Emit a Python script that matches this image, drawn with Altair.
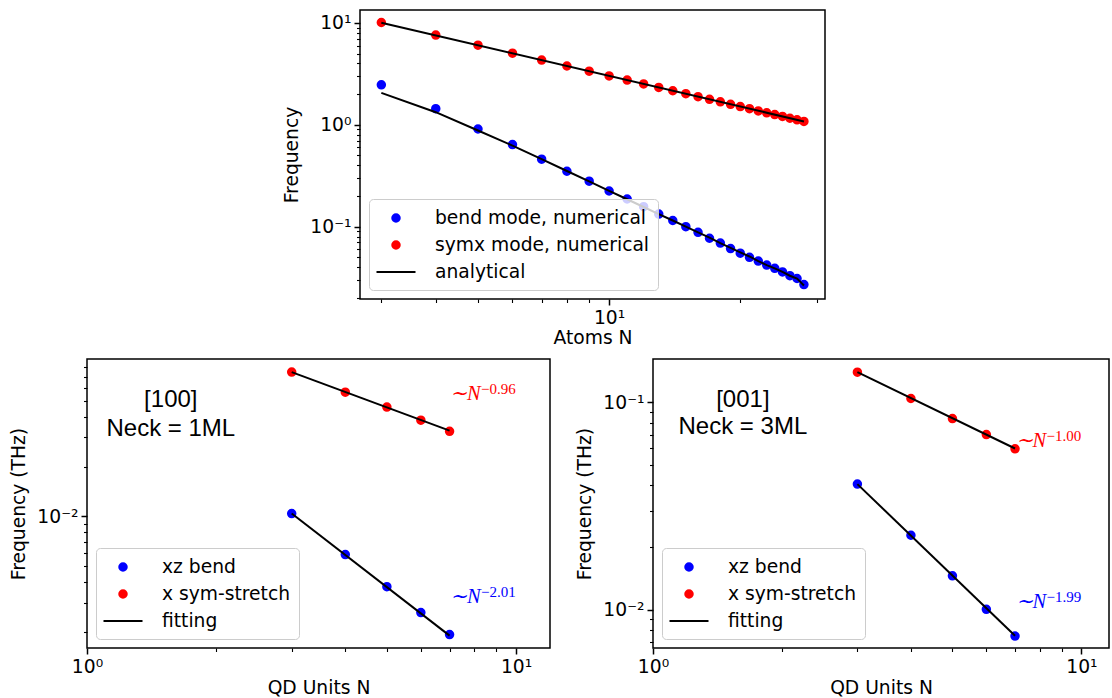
import altair as alt
import pandas as pd

FONT = "DejaVu Sans"
FS = 18.7
BLUE = "#0000ff"
RED = "#ff0000"

# ---------------- top panel: atoms chain ----------------
atoms_N = [3, 4, 5, 6, 7, 8, 9, 10, 11, 12, 13, 14, 15, 16, 17, 18, 19, 20,
           21, 22, 23, 24, 25, 26, 27, 28]
atoms_bend = [2.47, 1.44, 0.91, 0.64, 0.46, 0.35, 0.28, 0.224, 0.187, 0.157,
              0.133, 0.115, 0.100, 0.088, 0.077, 0.069, 0.061, 0.055, 0.050,
              0.046, 0.042, 0.039, 0.036, 0.033, 0.031, 0.027]
atoms_symx = [10.1, 7.6, 6.05, 5.05, 4.32, 3.78, 3.36, 3.02, 2.75, 2.52, 2.33,
              2.16, 2.02, 1.89, 1.78, 1.68, 1.59, 1.51, 1.44, 1.37, 1.31, 1.26,
              1.21, 1.16, 1.12, 1.08]
atoms_fit_bend = [2.06, 1.33, 0.88, 0.625, 0.46, 0.352, 0.279, 0.225, 0.186,
                  0.156, 0.133, 0.115, 0.100, 0.088, 0.078, 0.069, 0.062,
                  0.056, 0.051, 0.046, 0.042, 0.039, 0.036, 0.033, 0.031, 0.0265]
atoms_fit_symx_N = [3, 28]
atoms_fit_symx = [10.05, 1.08]
atoms_labels = ["bend mode, numerical", "symx mode, numerical", "analytical"]

# ---------------- bottom panels: QD units ----------------
qd_N = [3, 4, 5, 6, 7]
qd_fit_N = [3, 7]
p100_bend = [0.0104, 0.00588, 0.00376, 0.00262, 0.00193]
p100_stretch = [0.0746, 0.0564, 0.0458, 0.0382, 0.0327]
p100_fit_bend = [0.0104, 0.00190]
p100_fit_stretch = [0.0745, 0.0330]
p001_bend = [0.0404, 0.0229, 0.0146, 0.01006, 0.00748]
p001_stretch = [0.140, 0.1045, 0.0836, 0.0700, 0.0598]
p001_fit_bend = [0.0404, 0.00750]
p001_fit_stretch = [0.140, 0.0600]
qd_labels = ["xz bend", "x sym-stretch", "fitting"]

# annotations
p100_note = ["[100]", "Neck = 1ML"]
p100_note_N = [1.568, 1.568]
p100_note_f = [0.0458, 0.0305]
p001_note = ["[001]", "Neck = 3ML"]
p001_note_N = [1.621, 1.621]
p001_note_f = [0.0950, 0.0702]
p100_exp = ["\u22120.96", "\u22122.01"]
p100_exp_f = [0.0505, 0.00301]
p001_exp = ["\u22121.00", "\u22121.99"]
p001_exp_f = [0.0607, 0.0102]
exp_N = [7.02, 7.02]
exp_colors = [RED, BLUE]

SUP = {0.01: "10\u207b\u00b2", 0.1: "10\u207b\u00b9", 1: "10\u2070", 10: "10\u00b9"}

# marker glyphs as unit paths, drawn at size 400 -> 20 px box
SYM_SIZE = 400
DOT = "M-0.375,0A0.375,0.375,0,1,0,0.375,0A0.375,0.375,0,1,0,-0.375,0Z"
DASH = "M-1.95,0L1.95,0"


def log_axis(title, values, majors, title_pad):
    test = " || ".join(f"datum.value == {m}" for m in majors)
    expr = "".join(f"datum.value == {m} ? '{SUP[m]}' : " for m in majors) + "''"
    return alt.Axis(
        title=title, values=values, labelExpr=expr,
        tickSize={"condition": {"test": test, "value": 6}, "value": 3.5},
        tickWidth={"condition": {"test": test, "value": 1.5}, "value": 1.1},
        domain=False, grid=False, labelFlush=False, labelOverlap=False,
        labelPadding=3, titlePadding=title_pad,
    )


def legend():
    return alt.Legend(
        title=None, orient="bottom-left", offset=9,
        fillColor="rgba(255,255,255,0.8)", strokeColor="#cccccc",
        cornerRadius=4, padding=8, labelFont=FONT, labelFontSize=FS,
        labelColor="black", labelLimit=500, labelOffset=28, rowPadding=6,
        symbolOffset=8, symbolStrokeWidth=2, symbolOpacity=1,
        symbolSize=SYM_SIZE,
    )


def panel(pts, lines, labels, xdom, ydom, xaxis, yaxis, w, h, extra=None):
    xs = alt.Scale(type="log", domain=xdom, nice=False)
    ys = alt.Scale(type="log", domain=ydom, nice=False)
    X = alt.X("N:Q", scale=xs, axis=xaxis)
    Y = alt.Y("f:Q", scale=ys, axis=yaxis)
    lg = legend()
    p = alt.Chart(pts).mark_point(filled=False, strokeWidth=2, opacity=1,
                                  size=SYM_SIZE).encode(
        x=X, y=Y,
        stroke=alt.Stroke("series:N", scale=alt.Scale(domain=labels, range=[BLUE, RED, "black"]), legend=lg),
        fill=alt.Fill("series:N", scale=alt.Scale(domain=labels, range=[BLUE, RED, "black"]), legend=lg),
        shape=alt.Shape("series:N", scale=alt.Scale(domain=labels, range=[DOT, DOT, DASH]), legend=lg),
    )
    l = alt.Chart(lines).mark_line(color="black", strokeWidth=2).encode(
        x=X, y=Y, detail="series:N")
    layers = [p, l]
    if extra is not None:
        for e in extra:
            layers.append(e(X, Y))
    return alt.layer(*layers).properties(width=w, height=h)


# ---- top panel
top_pts = pd.DataFrame({
    "N": atoms_N + atoms_N,
    "f": atoms_bend + atoms_symx,
    "series": [atoms_labels[0]] * len(atoms_N) + [atoms_labels[1]] * len(atoms_N),
})
top_lines = pd.DataFrame({
    "N": atoms_N + atoms_fit_symx_N,
    "f": atoms_fit_bend + atoms_fit_symx,
    "series": ["b"] * len(atoms_N) + ["s"] * 2,
})
top = panel(
    top_pts, top_lines, atoms_labels, [2.68, 31.3], [0.0195, 13.4],
    log_axis("Atoms N", [3, 4, 5, 6, 7, 8, 9, 10, 20, 30], [10], 2),
    log_axis("Frequency", [0.02, 0.03, 0.04, 0.05, 0.06, 0.07, 0.08, 0.09, 0.1,
                           0.2, 0.3, 0.4, 0.5, 0.6, 0.7, 0.8, 0.9, 1, 2, 3, 4,
                           5, 6, 7, 8, 9, 10], [0.1, 1, 10], 8),
    465, 289,
)


def qd_panel(bend, stretch, fit_bend, fit_stretch, note, note_N, note_f,
             exps, exps_f, ydom, yvals, ymaj, xmax, w):
    pts = pd.DataFrame({
        "N": qd_N + qd_N,
        "f": bend + stretch,
        "series": [qd_labels[0]] * 5 + [qd_labels[1]] * 5,
    })
    lines = pd.DataFrame({
        "N": qd_fit_N + qd_fit_N,
        "f": fit_bend + fit_stretch,
        "series": ["b", "b", "s", "s"],
    })
    notes = pd.DataFrame({"N": note_N, "f": note_f, "t": note})
    ex = pd.DataFrame({"N": exp_N, "f": exps_f, "t": exps, "c": exp_colors})

    def t_notes(X, Y):
        return alt.Chart(notes).mark_text(
            font="Liberation Sans", fontSize=24, align="center",
            baseline="alphabetic", color="black").encode(x=X, y=Y, text="t:N")

    def t_base(X, Y):
        return alt.Chart(ex).mark_text(
            font="Liberation Serif", fontSize=20.5, fontStyle="italic",
            align="left", baseline="alphabetic").encode(
            x=X, y=Y, text=alt.value("\u223cN"),
            color=alt.Color("c:N", scale=None))

    def t_exp(X, Y):
        return alt.Chart(ex).mark_text(
            font="Liberation Serif", fontSize=15, align="left",
            baseline="alphabetic", dx=31, dy=-6).encode(
            x=X, y=Y, text="t:N", color=alt.Color("c:N", scale=None))

    return panel(
        pts, lines, qd_labels, [1, xmax], ydom,
        log_axis("QD Units N", [1, 2, 3, 4, 5, 6, 7, 8, 9, 10], [1, 10], 3),
        log_axis("Frequency (THz)", yvals, ymaj, 8),
        w, 289, extra=[t_notes, t_base, t_exp],
    )


bl = qd_panel(p100_bend, p100_stretch, p100_fit_bend, p100_fit_stretch,
              p100_note, p100_note_N, p100_note_f, p100_exp, p100_exp_f,
              [0.0016, 0.0895],
              [0.002, 0.003, 0.004, 0.005, 0.006, 0.007, 0.008, 0.009, 0.01,
               0.02, 0.03, 0.04, 0.05, 0.06, 0.07, 0.08], [0.01], 12, 463)
br = qd_panel(p001_bend, p001_stretch, p001_fit_bend, p001_fit_stretch,
              p001_note, p001_note_N, p001_note_f, p001_exp, p001_exp_f,
              [0.00655, 0.162],
              [0.007, 0.008, 0.009, 0.01, 0.02, 0.03, 0.04, 0.05, 0.06, 0.07,
               0.08, 0.09, 0.1], [0.01, 0.1], 11.6, 456)

spacer = alt.Chart(pd.DataFrame({"v": [0]})).mark_point(opacity=0).encode(
    x=alt.value(100), y=alt.value(100)
).properties(width=273, height=289, view=alt.ViewBackground(strokeOpacity=0))

indep = dict(x="independent", y="independent", stroke="independent",
             fill="independent", shape="independent")

top_row = alt.hconcat(spacer, top, spacing=0, bounds="flush").resolve_scale(**indep)
bottom_row = alt.hconcat(bl, br, spacing=103, bounds="flush").resolve_scale(**indep)

chart = alt.vconcat(top_row, bottom_row, spacing=8).resolve_scale(
    **indep
).properties(
    padding={"left": 9, "top": 9, "right": 0, "bottom": 0},
    background="white",
).configure_view(stroke="black", strokeWidth=1.5).configure_axis(
    labelFont=FONT, labelFontSize=FS, labelColor="black",
    titleFont=FONT, titleFontSize=FS, titleFontWeight="normal",
    titleColor="black", tickColor="black",
)

chart.save("out.html", embed_options={"renderer": "svg", "actions": False})
